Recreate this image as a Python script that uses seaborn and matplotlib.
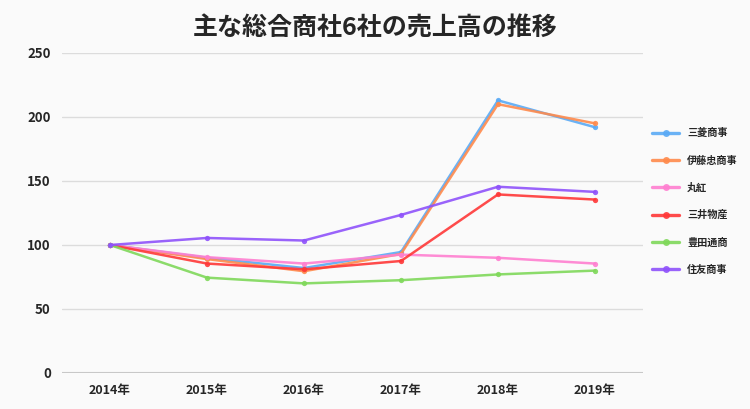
import pandas as pd
import matplotlib.pyplot as plt
import seaborn as sns

years = ['2014年', '2015年', '2016年', '2017年', '2018年', '2019年']
companies = ['三菱商事', '伊藤忠商事', '丸紅', '三井物産', '豊田通商', '住友商事']
mitsubishi = [100, 90, 82, 94.5, 213, 192]
itochu = [100, 89, 79.5, 93, 210, 195]
marubeni = [100, 90.5, 85.5, 92.5, 90, 85.5]
mitsui = [100, 85.5, 81, 87.5, 139.5, 135.5]
toyota = [100, 74.5, 70, 72.5, 77, 80]
sumitomo = [100, 105.5, 103.5, 123.5, 145.5, 141.5]

colors = ['#5aaaf5', '#ff8a4c', '#ff7fd0', '#ff3838', '#7fd85a', '#8f52fb']

sns.set_style('white')
plt.rcParams['font.family'] = ['Noto Sans CJK JP', 'DejaVu Sans']

rows = []
for name, vals in zip(companies, [mitsubishi, itochu, marubeni, mitsui, toyota, sumitomo]):
    for i, v in enumerate(vals):
        rows.append({'year': i, 'value': v, 'company': name})
df = pd.DataFrame(rows)

fig = plt.figure(figsize=(7.5, 4.09), dpi=100, facecolor='#fafafa')
ax = fig.add_axes([62 / 750, 1 - 373 / 409, (643 - 62) / 750, 320 / 409])
ax.set_facecolor('#fafafa')

for y in [50, 100, 150, 200, 250]:
    ax.axhline(y, color='#dcdcdc', lw=1, zorder=0)
ax.axhline(0, color='#c8c8c8', lw=1.5, zorder=0)

sns.lineplot(data=df, x='year', y='value', hue='company', hue_order=companies,
             palette=colors, marker='o', markersize=3.8, markeredgewidth=0,
             linewidth=1.8, alpha=0.9, ax=ax, zorder=3)

ax.set_xlim(-0.495, 5.495)
ax.set_ylim(0, 250)
ax.set_xticks(range(len(years)))
ax.set_xticklabels(years, fontweight='bold', fontsize=9)
ax.set_yticks([0, 50, 100, 150, 200, 250])
ax.set_yticklabels(['0', '50', '100', '150', '200', '250'], fontweight='bold', fontsize=9.5)
ax.tick_params(length=0, pad=8)
ax.set_xlabel('')
ax.set_ylabel('')
for s in ax.spines.values():
    s.set_visible(False)

leg = ax.legend(loc='upper left', bbox_to_anchor=(1.0086, 0.778), frameon=False,
                prop={'weight': 'bold', 'size': 7.3}, labelspacing=1.7,
                handlelength=2.66, handletextpad=0.8, borderaxespad=0)
for h in leg.get_lines():
    h.set_linewidth(2.4)
    h.set_markersize(5)

fig.text(0.5, 1 - 29 / 409, '主な総合商社6社の売上高の推移', ha='center', va='center',
         fontsize=18, fontweight='bold')

fig.savefig('out.png', dpi=100, facecolor=fig.get_facecolor())
